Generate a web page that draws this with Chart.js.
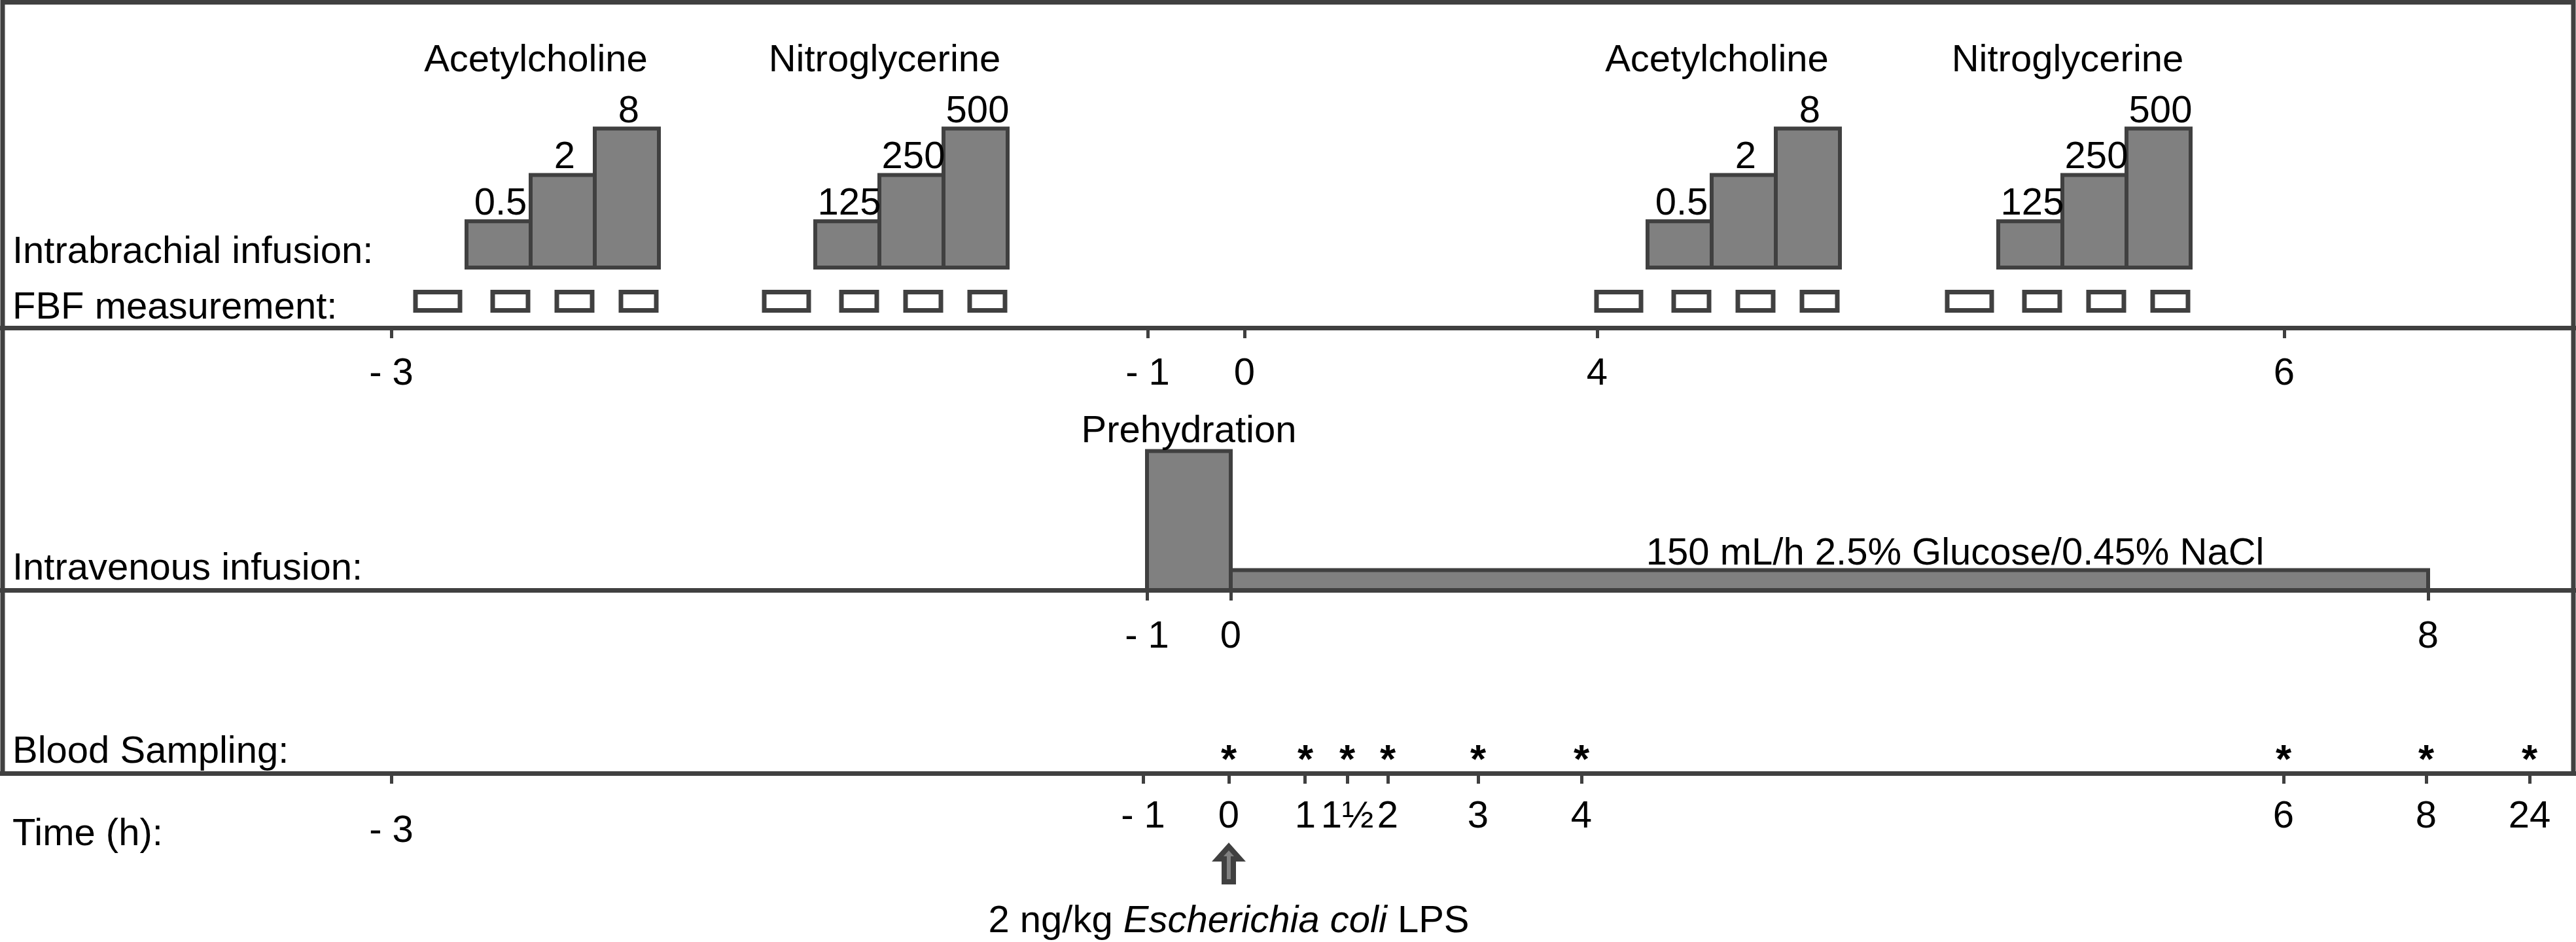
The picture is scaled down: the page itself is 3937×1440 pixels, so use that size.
<!DOCTYPE html>
<html>
<head>
<meta charset="utf-8">
<title>Study protocol</title>
<script src="https://cdn.jsdelivr.net/npm/chart.js@4.4.1/dist/chart.umd.min.js"></script>
<style>
  html, body { margin: 0; padding: 0; background: #fff; overflow: hidden; }
  #wrap { position: relative; width: 3937px; height: 1440px; }
</style>
</head>
<body>
<div id="wrap"><canvas id="protocolChart"></canvas></div>
<script>
// time axes are schematic (not to scale): label + where it sits on the drawing
const topTimeLabels = ['- 3', '- 1', '0', '4', '6'];
const topTimePos = [598, 1754, 1902, 2441, 3491];
const ivTimeLabels = ['- 1', '0', '8'];
const ivTimePos = [1753, 1881, 3711];
const timeLabels = ['- 3', '- 1', '0', '1', '1½', '2', '3', '4', '6', '8', '24'];
const timePos = [598, 1747, 1878, 1995, 2059, 2121, 2259, 2417, 3490, 3708, 3866];

// intrabrachial infusions (dose steps drawn as rising staircase)
const drugNames = ['Acetylcholine', 'Nitroglycerine', 'Acetylcholine', 'Nitroglycerine'];
const drugDoses = [['0.5', '2', '8'], ['125', '250', '500'], ['0.5', '2', '8'], ['125', '250', '500']];
const doseSteps = [1, 2, 3];
const drugStart = [713, 1246, 2518, 3054];

// intravenous infusion
const ivNames = ['Prehydration', '150 mL/h 2.5% Glucose/0.45% NaCl'];
const ivFrom = ['- 1', '0'];
const ivTo = ['0', '8'];
const ivRate = [3, 0.43]; // relative height, in dose-step units

// blood sampling and LPS
const samplingTimes = ['0', '1', '1½', '2', '3', '4', '6', '8', '24'];
const lpsTime = '0';

const rowNames = ['Intrabrachial infusion:', 'FBF measurement:', 'Intravenous infusion:', 'Blood Sampling:', 'Time (h):'];

// ---- layout / style ----
const W = 3937, H = 1440;
const FONT = "'Liberation Sans', Arial, Helvetica, sans-serif";
const TXT = '58px ' + FONT;
const DARK = '#404040';
const GREY = '#808080';
const L = {
    leftX: 4, rightX: 3933, topY: 3.5,
    div1: 501, div2: 902, axisY: 1182,
    stepW: 98, stepH: 70.8, stepBase: 409,
    fbfTop: 446.5, fbfBottom: 474.5,
    rowX: 19, rowBase: [402, 487, 886, 1166, 1292],
    nameShift: 106, nameBase: 109,
    ivLabelAt: [0.5, 0.605], ivLabelGap: [14, 9],
    starY: 1145, starDrop: 36,
    arrow: { tip: 1294, neck: 1313, bottom: 1348, head: 17, shaft: 7 },
    lpsBase: 1425
};

const posOf = (labels, pos, t) => pos[labels.indexOf(t)];

function rectPts(x0, x1, yTop, yBottom) {
    return [{x: x0, y: yBottom}, {x: x0, y: yTop}, {x: x1, y: yTop}, {x: x1, y: yBottom}, {x: x0, y: yBottom}];
}

function shapeSet(label, data, fillColor, width) {
    return {
        label: label,
        data: data,
        fill: fillColor ? 'shape' : false,
        backgroundColor: fillColor || 'rgba(0,0,0,0)',
        borderColor: DARK,
        borderWidth: width,
        borderJoinStyle: 'miter',
        borderCapStyle: 'square',
        pointRadius: 0,
        tension: 0,
        clip: false
    };
}

const datasets = [];

// panel frame (left, top, right)
datasets.push(shapeSet('frame', [
    {x: L.leftX, y: L.axisY}, {x: L.leftX, y: L.topY},
    {x: L.rightX, y: L.topY}, {x: L.rightX, y: L.axisY}
], null, 7));

// dose staircases + FBF measurement windows
drugNames.forEach((name, g) => {
    const s = drugStart[g];
    doseSteps.forEach((lvl, i) => {
        const x0 = s + i * L.stepW;
        datasets.push(shapeSet(name + ' ' + drugDoses[g][i],
            rectPts(x0, x0 + L.stepW, L.stepBase - lvl * L.stepH, L.stepBase), GREY, 6));
    });
    datasets.push(shapeSet('FBF baseline', rectPts(s - 78, s - 10, L.fbfTop, L.fbfBottom), '#ffffff', 7));
    doseSteps.forEach((lvl, i) => {
        const end = s + (i + 1) * L.stepW;
        datasets.push(shapeSet('FBF', rectPts(end - 58, end - 4, L.fbfTop, L.fbfBottom), '#ffffff', 7));
    });
});

// intravenous infusions
ivNames.forEach((name, k) => {
    const x0 = posOf(ivTimeLabels, ivTimePos, ivFrom[k]);
    const x1 = posOf(ivTimeLabels, ivTimePos, ivTo[k]);
    datasets.push(shapeSet(name, rectPts(x0, x1, L.div2 - ivRate[k] * L.stepH, L.div2), GREY, 6));
});

// LPS arrow at time of injection
const lx = posOf(timeLabels, timePos, lpsTime);
const A = L.arrow;
datasets.push(shapeSet('LPS', [
    {x: lx - A.shaft, y: A.bottom}, {x: lx - A.shaft, y: A.neck}, {x: lx - A.head, y: A.neck},
    {x: lx, y: A.tip}, {x: lx + A.head, y: A.neck}, {x: lx + A.shaft, y: A.neck},
    {x: lx + A.shaft, y: A.bottom}, {x: lx - A.shaft, y: A.bottom}
], GREY, 8));

// blood sampling moments (drawn as asterisks by the text plugin)
const samplingIndex = datasets.length;
datasets.push({
    label: 'Blood sampling',
    data: samplingTimes.map(t => ({x: posOf(timeLabels, timePos, t), y: L.starY})),
    showLine: false,
    pointRadius: 0,
    clip: false
});

function timeAxis(yLine, labels, pos, pad, lineHeightAt) {
    return {
        type: 'linear',
        axis: 'x',
        min: 0,
        max: W,
        position: {y: yLine},
        afterBuildTicks: axis => { axis.ticks = pos.map(v => ({value: v})); },
        grid: {
            display: true, drawOnChartArea: false, drawTicks: true,
            tickLength: 12, tickWidth: 5, tickColor: DARK, color: DARK
        },
        border: { display: true, color: DARK, width: 7 },
        ticks: {
            autoSkip: false, maxRotation: 0, minRotation: 0,
            padding: pad, color: '#000',
            font: c => ({ size: 58, lineHeight: lineHeightAt ? lineHeightAt(c.index) : 1.2 }),
            callback: (v, i) => labels[i]
        }
    };
}

const protocolText = {
    id: 'protocolText',
    afterDraw(chart) {
        const ctx = chart.ctx;
        const px = v => chart.scales.x.getPixelForValue(v);
        const py = v => chart.scales.y.getPixelForValue(v);
        ctx.save();
        ctx.fillStyle = '#000';
        ctx.font = TXT;
        ctx.textBaseline = 'alphabetic';

        ctx.textAlign = 'left';
        rowNames.forEach((t, i) => ctx.fillText(t, px(L.rowX), py(L.rowBase[i])));

        ctx.textAlign = 'center';
        drugNames.forEach((name, g) => {
            ctx.fillText(name, px(drugStart[g] + L.nameShift), py(L.nameBase));
            drugDoses[g].forEach((d, i) => {
                const top = L.stepBase - doseSteps[i] * L.stepH;
                ctx.fillText(d, px(drugStart[g] + (i + 0.5) * L.stepW + 3), py(top - 10));
            });
        });

        ivNames.forEach((name, k) => {
            const x0 = posOf(ivTimeLabels, ivTimePos, ivFrom[k]);
            const x1 = posOf(ivTimeLabels, ivTimePos, ivTo[k]);
            const top = L.div2 - ivRate[k] * L.stepH;
            ctx.fillText(name, px(x0 + (x1 - x0) * L.ivLabelAt[k]), py(top - L.ivLabelGap[k]));
        });

        ctx.font = 'bold 62px ' + FONT;
        chart.getDatasetMeta(samplingIndex).data.forEach(pt => {
            ctx.fillText('*', pt.x, pt.y + L.starDrop);
        });

        // caption under the arrow, species name in italics
        const parts = [['2 ng/kg ', false], ['Escherichia coli', true], [' LPS', false]];
        const widths = parts.map(([t, it]) => { ctx.font = (it ? 'italic ' : '') + TXT; return ctx.measureText(t).width; });
        let cx = px(lx) - widths.reduce((a, b) => a + b, 0) / 2;
        ctx.textAlign = 'left';
        parts.forEach(([t, it], i) => {
            ctx.font = (it ? 'italic ' : '') + TXT;
            ctx.fillText(t, cx, py(L.lpsBase));
            cx += widths[i];
        });
        ctx.restore();
    }
};

Chart.defaults.font.family = FONT;
Chart.defaults.font.size = 58;
Chart.defaults.color = '#000';

new Chart(document.getElementById('protocolChart').getContext('2d'), {
    type: 'line',
    data: { datasets: datasets },
    options: {
        responsive: true,
        maintainAspectRatio: false,
        animation: false,
        events: [],
        layout: { padding: 0 },
        plugins: { legend: { display: false }, tooltip: { enabled: false } },
        scales: {
            x: { type: 'linear', min: 0, max: W, display: false },
            y: { type: 'linear', min: 0, max: H, reverse: true, display: false },
            xTop: timeAxis(L.div1, topTimeLabels, topTimePos, 24),
            xIv: timeAxis(L.div2, ivTimeLabels, ivTimePos, 25),
            xTime: timeAxis(L.axisY, timeLabels, timePos, 20, i => (i === 0 ? 1.96 : 1.2))
        }
    },
    plugins: [protocolText]
});
</script>
</body>
</html>
